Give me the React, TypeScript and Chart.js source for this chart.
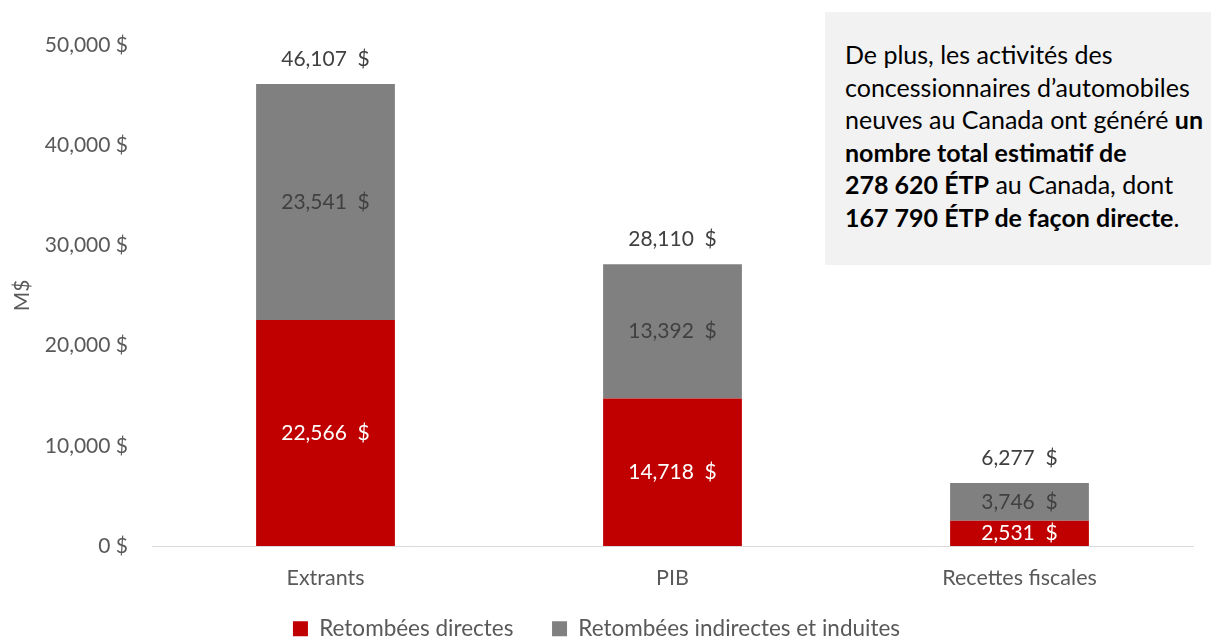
import React, { useEffect, useRef } from "react";
import Chart from "chart.js/auto";

const categories = ["Extrants", "PIB", "Recettes fiscales"];
const directes = [22566, 14718, 2531];
const indirectes = [23541, 13392, 3746];
const seriesNames = ["Retombées directes", "Retombées indirectes et induites"];
const yTicks = [0, 10000, 20000, 30000, 40000, 50000];

const FONT = "Lato, 'Open Sans', sans-serif";
const RED = "#C00000";
const GRAY = "#808080";

const fmt = (v: number) => v.toLocaleString("en-US");

const labelsPlugin = {
  id: "barLabels",
  afterDatasetsDraw(chart: any) {
    const ctx = chart.ctx;
    ctx.save();
    ctx.font = `21px ${FONT}`;
    ctx.textAlign = "center";
    ctx.textBaseline = "middle";
    const colors = ["#FFFFFF", "#404040"];
    chart.data.datasets.forEach((ds: any, di: number) => {
      const meta = chart.getDatasetMeta(di);
      meta.data.forEach((el: any, i: number) => {
        const y = (el.y + el.base) / 2;
        ctx.fillStyle = colors[di];
        ctx.fillText(`${fmt(ds.data[i])}  $`, el.x, y);
      });
    });
    const last = chart.getDatasetMeta(chart.data.datasets.length - 1);
    last.data.forEach((el: any, i: number) => {
      const total = chart.data.datasets.reduce((s: number, ds: any) => s + ds.data[i], 0);
      ctx.fillStyle = "#404040";
      ctx.fillText(`${fmt(total)}  $`, el.x, el.y - 25);
    });
    ctx.restore();
  },
};

export default function App() {
  const ref = useRef<HTMLCanvasElement>(null);
  useEffect(() => {
    if (!ref.current) return;
    const chart = new Chart(ref.current, {
      type: "bar",
      data: {
        labels: categories,
        datasets: [
          { label: seriesNames[0], data: directes, backgroundColor: RED, categoryPercentage: 1, barPercentage: 0.4 },
          { label: seriesNames[1], data: indirectes, backgroundColor: GRAY, categoryPercentage: 1, barPercentage: 0.4 },
        ],
      },
      options: {
        animation: false,
        responsive: false,
        maintainAspectRatio: false,
        layout: { padding: { left: 0, right: 18, top: 45, bottom: 0 } },
        plugins: {
          tooltip: { enabled: false },
          legend: {
            position: "bottom",
            maxHeight: 25.5,
            labels: {
              boxWidth: 15,
              boxHeight: 15,
              padding: 4,
              color: "#595959",
              font: { family: FONT, size: 22.5 },
              generateLabels: (chart: any) => {
                const items = Chart.defaults.plugins.legend.labels.generateLabels(chart);
                return items.map((it: any, i: number) => ({
                  ...it,
                  text: i < items.length - 1 ? it.text + "      " : it.text,
                }));
              },
            },
          },
        },
        scales: {
          x: {
            stacked: true,
            grid: { display: false, drawTicks: false },
            border: { display: true, color: "#D9D9D9", width: 1 },
            ticks: { color: "#595959", font: { family: FONT, size: 21.5 }, padding: 19 },
            afterFit: (s: any) => { s.height = 67.5; },
          },
          y: {
            stacked: true,
            min: 0,
            max: 50000,
            grid: { display: false, drawTicks: false },
            border: { display: false },
            afterBuildTicks: (s: any) => { s.ticks = yTicks.map((v) => ({ value: v })); },
            ticks: {
              color: "#595959",
              font: { family: FONT, size: 21 },
              padding: 24,
              callback: (v: any) => `${fmt(Number(v))} $`,
            },
            title: {
              display: true,
              text: "M$",
              color: "#595959",
              font: { family: FONT, size: 21 },
              padding: { top: 10, bottom: 0 },
            },
            afterFit: (s: any) => { s.width = 152; },
          },
        },
      },
      plugins: [labelsPlugin],
    });
    return () => chart.destroy();
  }, []);

  return (
    <div style={{ position: "absolute", left: 0, top: 0, width: 1211, height: 639, background: "#fff" }}>
      <canvas ref={ref} width={1211} height={639} style={{ position: "absolute", left: 0, top: 0 }} />
      <div
        style={{
          position: "absolute",
          left: 825,
          top: 12,
          width: 386,
          height: 253,
          background: "#F2F2F2",
          boxSizing: "border-box",
          padding: "26px 0 0 20px",
          fontFamily: FONT,
          fontSize: 25,
          lineHeight: "32.6px",
          color: "#000",
          whiteSpace: "nowrap",
        }}
      >
        De plus, les activités des
        <br />
        concessionnaires d’automobiles
        <br />
        neuves au Canada ont généré <b>un</b>
        <br />
        <b>nombre total estimatif de</b>
        <br />
        <b>278 620 ÉTP</b> au Canada, dont
        <br />
        <b>167 790 ÉTP de façon directe</b>.
      </div>
    </div>
  );
}
